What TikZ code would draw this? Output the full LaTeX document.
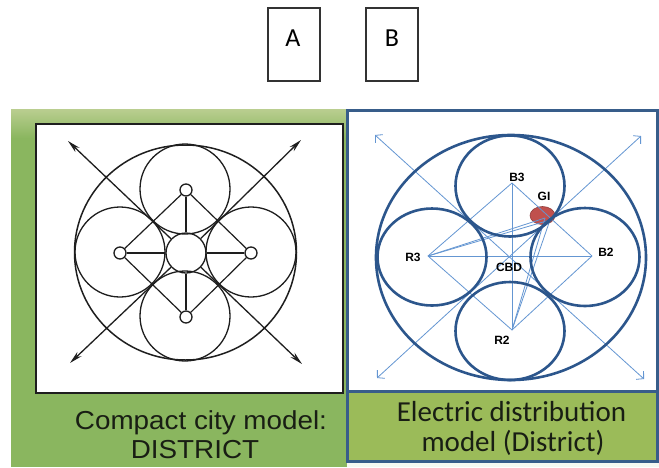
\documentclass[tikz,border=0pt]{standalone}
\usepackage{fontspec}
\usepackage{graphicx}
\setmainfont{Liberation Sans}
\newfontfamily\carl{Carlito}
\usetikzlibrary{arrows.meta,shapes.geometric}
\definecolor{bgreen}{RGB}{138,182,95}
\definecolor{bgreenlt}{RGB}{186,206,144}
\definecolor{olive}{RGB}{155,187,89}
\definecolor{frameblue}{RGB}{56,93,138}
\definecolor{ringblue}{RGB}{44,86,140}
\definecolor{thinblue}{RGB}{100,150,210}
\definecolor{gired}{RGB}{192,80,77}
\definecolor{inkgray}{RGB}{30,30,30}
\definecolor{capink}{RGB}{25,30,20}
\begin{document}
\begin{tikzpicture}[x=1pt,y=-1pt,
  letterbox/.style={draw=black!80, line width=1.4pt, minimum width=52pt, minimum height=73pt, inner sep=0pt},
  letterlab/.style={font=\carl\fontsize{26}{30}\selectfont, inner sep=0pt},
  ringL/.style={draw=inkgray, line width=1.3pt, circle, inner sep=0pt},
  ringLe/.style={draw=inkgray, line width=1.5pt, ellipse, inner sep=0pt},
  lineL/.style={draw=inkgray, line width=1.2pt},
  arrL/.style={draw=inkgray, line width=1.3pt, -{Stealth[length=13pt,width=6pt]}},
  ringR/.style={draw=ringblue, line width=2.6pt, ellipse, inner sep=0pt},
  lineR/.style={draw=thinblue, line width=0.8pt},
  arrR/.style={draw=thinblue, line width=0.8pt, {Straight Barb[length=5pt,width=11pt]}-{Straight Barb[length=5pt,width=11pt]}},
  lab/.style={font=\bfseries\fontsize{12}{14}\selectfont, inner sep=0pt, text=black},
  capLeft/.style={font=\fontsize{26}{30}\selectfont, text=capink, inner sep=0pt, anchor=base},
  capRight/.style={font=\carl\fontsize{29}{33}\selectfont, text=capink, inner sep=0pt, anchor=base}
]
\useasboundingbox (0,0) rectangle (659,467);
\fill[white] (0,0) rectangle (659,467);
% ---- top letter boxes
\node[letterbox] (boxA) at (294,44.5) {};
\node[letterlab] (labA) at (293,38) {A};
\node[letterbox] (boxB) at (392,44.5) {};
\node[letterlab] (labB) at (392,38) {B};
% ---- green background
\fill[bgreen] (11,109) rectangle (659,467);
\shade[top color=bgreenlt, bottom color=bgreen] (11,109) rectangle (659,138);
% ---- left panel
\draw[fill=white, draw=inkgray, line width=1.3pt] (36,124) rectangle (343,393);
\node[ringLe, minimum width=222pt, minimum height=215pt] (outerL) at (185.5,252.5) {};
\node[ringL, minimum size=90pt] (cT) at (185,189) {};
\node[ringL, minimum size=90pt] (cL) at (120,252) {};
\node[ringL, minimum size=90pt] (cR) at (251,252) {};
\node[ringL, minimum size=90pt] (cB) at (185,316) {};
\node[ringL, minimum size=40pt] (hub) at (186,253) {};
\node[ringL, minimum size=12pt] (nT) at (186,190) {};
\node[ringL, minimum size=12pt] (nL) at (120,253) {};
\node[ringL, minimum size=12pt] (nR) at (251,253) {};
\node[ringL, minimum size=12pt] (nB) at (186,317) {};
\draw[lineL] (nT) -- (nR);
\draw[lineL] (nR) -- (nB);
\draw[lineL] (nB) -- (nL);
\draw[lineL] (nL) -- (nT);
\draw[lineL] (nT) -- (hub);
\draw[lineL] (nB) -- (hub);
\draw[lineL] (nL) -- (hub);
\draw[lineL] (nR) -- (hub);
\coordinate (aTL) at (68,141);
\coordinate (aBR) at (302,364);
\coordinate (aTR) at (301,140);
\coordinate (aBL) at (70,363);
\draw[arrL] (hub) -- (aTL);
\draw[arrL] (hub) -- (aBR);
\draw[arrL] (hub) -- (aTR);
\draw[arrL] (hub) -- (aBL);
\node[capLeft] (capL1) at (201,429) {\scalebox{1.07}[1]{Compact city model:}};
\node[capLeft] (capL2) at (195,458) {\scalebox{1.07}[1]{DISTRICT}};
% ---- right panel
\fill[white!92!bgreen] (347,461) rectangle (659,467);
\draw[fill=white, draw=frameblue, line width=3pt] (347,110) rectangle (657.5,461);
\fill[olive] (348.5,391) rectangle (656,459.5);
\draw[frameblue, line width=3pt] (347,391) -- (657.5,391);
\node[capRight] (capR1) at (511.5,421.5) {Electric distribution};
\node[capRight] (capR2) at (513,451.5) {model (District)};
% red GI dot
\node[ellipse, fill=gired, draw=gired!75!black, line width=0.6pt, minimum width=25pt, minimum height=18pt, inner sep=0pt] (giDot) at (542.5,215.5) {};
% points
\coordinate (pB3) at (512,183);
\coordinate (pR3) at (428,256);
\coordinate (pB2) at (592,256);
\coordinate (pR2) at (512,330);
\coordinate (pCBD) at (511,257);
\coordinate (pGI) at (550,220);
\coordinate (pGIb) at (545,218);
\draw[lineR] (pB3) -- (pB2);
\draw[lineR] (pB2) -- (pR2);
\draw[lineR] (pR2) -- (pR3);
\draw[lineR] (pR3) -- (pB3);
\draw[lineR] (pB3) -- (pR2);
\draw[lineR] (pR3) -- (pB2);
\draw[lineR] (pR3) -- (pGI);
\draw[lineR] (pR3) -- (pGIb);
\draw[lineR] (pR2) -- (pGI);
\draw[lineR] (pR2) -- (pGIb);
\coordinate (dTL) at (375,135);
\coordinate (dBR) at (644,379);
\coordinate (dTR) at (641,136);
\coordinate (dBL) at (377,378);
\draw[arrR] (dTL) -- (dBR);
\draw[arrR] (dTR) -- (dBL);
% rings
\node[ringR, minimum width=270pt, minimum height=245pt] (outerR) at (511,257.5) {};
\node[ringR, minimum width=109pt, minimum height=101pt] (eB3) at (510,186) {};
\node[ringR, minimum width=109pt, minimum height=97pt] (eR3) at (432,257) {};
\node[ringR, minimum width=109pt, minimum height=98pt] (eB2) at (585,257) {};
\node[ringR, minimum width=109pt, minimum height=98pt] (eR2) at (510,331) {};
% labels
\node[lab] (tB3) at (517,177) {B3};
\node[lab] (tGI) at (544,196) {GI};
\node[lab] (tB2) at (606,252) {B2};
\node[lab] (tR3) at (413,257) {R3};
\node[lab] (tCBD) at (509,267) {CBD};
\node[lab] (tR2) at (502,340) {R2};
\end{tikzpicture}
\end{document}
